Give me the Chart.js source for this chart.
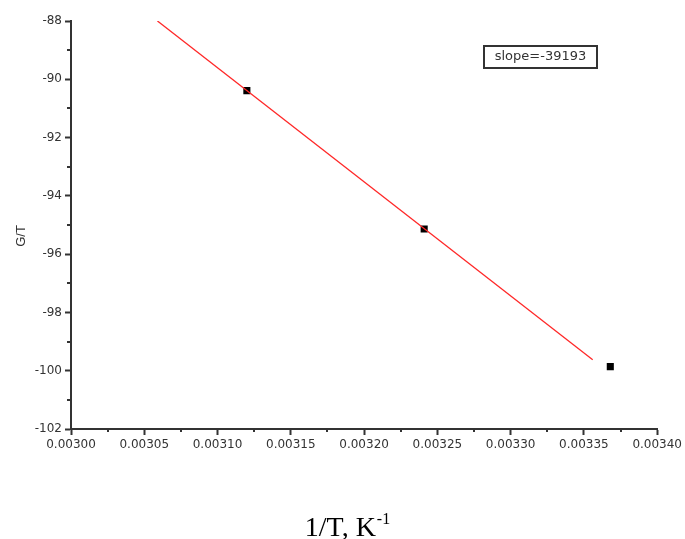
<!DOCTYPE html>
<html>
<head>
<meta charset="utf-8">
<script src="https://cdn.jsdelivr.net/npm/chart.js@4/dist/chart.umd.min.js"></script>
<style>
  html, body { margin: 0; padding: 0; background: #fff; }
  #wrap { width: 685px; height: 539px; }
</style>
</head>
<body>
<div id="wrap"><canvas id="grafik" width="685" height="539"></canvas></div>
<script>
// data
const titikX = [0.00312, 0.003241, 0.003368];
const titikY = [-90.39, -95.14, -99.86];
const garisX = [0.003059, 0.003356];
const garisY = [-88.0, -99.62];
const labelKemiringan = 'slope=-39193';
const judulY = 'G/T';
const judulX = '1/T, K';
const judulXPangkat = '-1';

const warnaSumbu = '#333';
const fontTick = { family: 'DejaVu Sans', size: 12 };

function isMayor(nilai, langkah) {
  return Math.round(nilai / langkah) % 2 === 0;
}

// minor ticks, axis titles and the slope box
const hiasan = {
  id: 'hiasan',
  afterDraw(chart) {
    const c = chart.ctx;
    const area = chart.chartArea;
    const sx = chart.scales.x, sy = chart.scales.y;
    c.save();
    c.strokeStyle = warnaSumbu;
    c.lineWidth = 2;
    sy.ticks.forEach(t => {
      if (!isMayor(t.value, 1)) {
        const y = Math.round(sy.getPixelForValue(t.value));
        c.beginPath(); c.moveTo(area.left - 4, y); c.lineTo(area.left, y); c.stroke();
      }
    });
    sx.ticks.forEach(t => {
      if (!isMayor(t.value, 0.000025)) {
        const x = Math.round(sx.getPixelForValue(t.value));
        c.beginPath(); c.moveTo(x, area.bottom); c.lineTo(x, area.bottom + 3); c.stroke();
      }
    });

    // y title
    c.fillStyle = '#333';
    c.font = '13px "Liberation Sans"';
    c.textAlign = 'center';
    c.textBaseline = 'middle';
    c.translate(21, 236);
    c.rotate(-Math.PI / 2);
    c.fillText(judulY, 0, 0);
    c.setTransform(1, 0, 0, 1, 0, 0);

    // x title with superscript
    c.fillStyle = '#000';
    c.textBaseline = 'alphabetic';
    c.textAlign = 'left';
    c.font = '28px "Liberation Serif"';
    const lebar1 = c.measureText(judulX).width;
    c.font = '16px "Liberation Serif"';
    const lebar2 = c.measureText(judulXPangkat).width;
    const mulai = 347 - (lebar1 + lebar2) / 2;
    c.font = '28px "Liberation Serif"';
    c.fillText(judulX, mulai, 536);
    c.font = '16px "Liberation Serif"';
    c.fillText(judulXPangkat, mulai + lebar1 + 1, 524);

    // slope box
    c.strokeStyle = '#333';
    c.lineWidth = 2;
    c.strokeRect(484, 46, 113, 22);
    c.fillStyle = '#333';
    c.font = '13px "DejaVu Sans"';
    c.textAlign = 'center';
    c.textBaseline = 'middle';
    c.fillText(labelKemiringan, 540.5, 57);
    c.restore();
  }
};

new Chart(document.getElementById('grafik'), {
  type: 'scatter',
  data: {
    datasets: [
      {
        label: 'fit',
        data: garisX.map((x, i) => ({ x: x, y: garisY[i] })),
        showLine: true,
        borderColor: 'rgb(255,40,40)',
        borderWidth: 1.3,
        pointRadius: 0
      },
      {
        label: 'data',
        data: titikX.map((x, i) => ({ x: x, y: titikY[i] })),
        showLine: false,
        pointStyle: 'rect',
        pointRadius: 5,
        backgroundColor: '#000',
        borderColor: '#000',
        borderWidth: 0
      }
    ]
  },
  plugins: [hiasan],
  options: {
    responsive: false,
    animation: false,
    devicePixelRatio: 1,
    layout: { padding: { top: 21, right: 27, left: 0, bottom: 0 } },
    plugins: { legend: { display: false }, tooltip: { enabled: false } },
    scales: {
      x: {
        type: 'linear',
        min: 0.003,
        max: 0.0034,
        afterFit: s => { s.height = 110; },
        border: { color: warnaSumbu, width: 2 },
        grid: {
          drawOnChartArea: false,
          tickLength: 6,
          tickWidth: 2,
          tickColor: ctx => isMayor(ctx.tick.value, 0.000025) ? warnaSumbu : 'rgba(0,0,0,0)'
        },
        ticks: {
          stepSize: 0.000025,
          padding: 3,
          maxRotation: 0,
          autoSkip: false,
          color: '#333',
          font: fontTick,
          callback: v => isMayor(v, 0.000025) ? v.toFixed(5) : ''
        }
      },
      y: {
        type: 'linear',
        min: -102,
        max: -88,
        afterFit: s => { s.width = 71; },
        border: { color: warnaSumbu, width: 2 },
        grid: {
          drawOnChartArea: false,
          tickLength: 6,
          tickWidth: 2,
          tickColor: ctx => isMayor(ctx.tick.value, 1) ? warnaSumbu : 'rgba(0,0,0,0)'
        },
        ticks: {
          stepSize: 1,
          padding: 3,
          autoSkip: false,
          color: '#333',
          font: fontTick,
          callback: v => isMayor(v, 1) ? String(v) : ''
        }
      }
    }
  }
});
</script>
</body>
</html>
